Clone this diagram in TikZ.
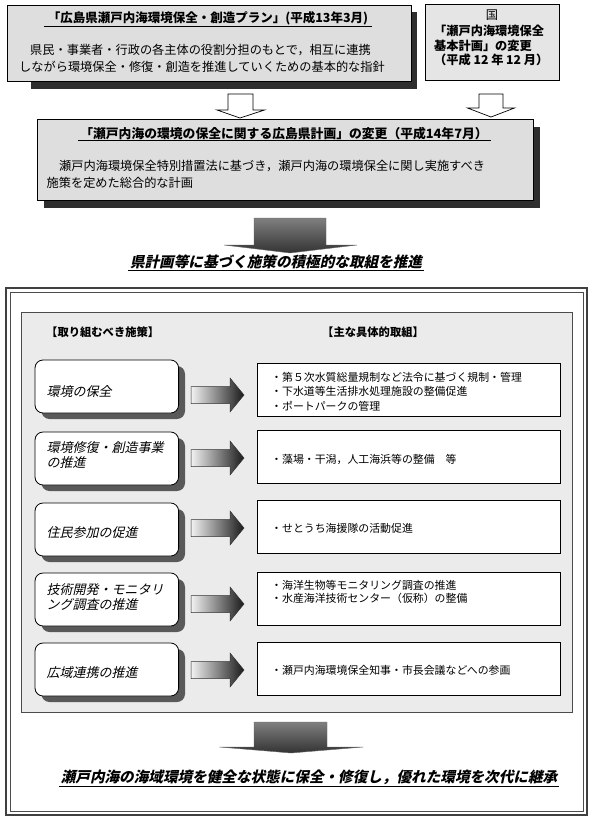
\documentclass[tikz,border=0pt]{standalone}
\usepackage{fontspec}
\setmainfont{Noto Sans CJK JP}
\newfontfamily\jpit[FakeSlant=0.22]{Noto Sans CJK JP}
\newcommand{\fsz}[1]{\fontsize{#1}{#1}\selectfont}
\begin{document}
\begin{tikzpicture}[x=1pt,y=-1pt,
  lbl/.style={inner sep=0pt,anchor=west},
  ttl/.style={inner sep=1.2pt},
  graybox/.style={draw=black,line width=0.8pt,fill=black!13},
  shadowbox/.style={fill=black!82},
  lbox/.style={draw=black,line width=0.8pt,fill=white,rounded corners=8pt},
  lshadow/.style={fill=black!65,rounded corners=8pt},
  rbox/.style={draw=black,line width=0.8pt,fill=white},
  hollow/.style={draw=black,line width=0.7pt,fill=white},
  hgrad/.style={draw=black!80,line width=0.5pt,left color=black!5,right color=black!90},
  vgrad/.style={draw=black!60,line width=0.4pt,top color=black!50,middle color=black!28,bottom color=black!80},
  uline/.style={line width=0.7pt}
]
\useasboundingbox (0,0) rectangle (598,828);
\fill[white] (0,0) rectangle (598,828);

% --- top left plan box
\fill[shadowbox] (30.5,12) rectangle (417,89);
\draw[graybox] (7.6,5) rectangle (411,81);
\node[ttl,font=\fsz{12.5}\bfseries] (t1) at (208,18) {「広島県瀬戸内海環境保全・創造プラン」(平成13年3月)};
\draw[uline] ([xshift=-2pt]t1.south west) -- ([xshift=2pt]t1.south east);
\node[lbl,font=\fsz{12.2}] (b1l1) at (30,50) {県民・事業者・行政の各主体の役割分担のもとで，相互に連携};
\node[lbl,font=\fsz{12.2}] (b1l2) at (19,67) {しながら環境保全・修復・創造を推進していくための基本的な指針};

% --- national box
\draw[graybox,fill=black!10] (425,4) rectangle (559,80);
\node[ttl,font=\fsz{12.2}] (kuni) at (492,15) {国};
\node[lbl,font=\fsz{12.2}\bfseries] (k1) at (434,31) {「瀬戸内海環境保全};
\node[lbl,font=\fsz{12.2}\bfseries] (k2) at (434,46) {基本計画」の変更};
\node[lbl,font=\fsz{12.2}\bfseries] (k3) at (434,60) {（平成 12 年 12 月）};

% --- hollow arrows
\draw[hollow] (228,94) -- (253,94) -- (253,110) -- (264.5,110) -- (240,118) -- (217,110) -- (228,110) -- cycle;
\draw[hollow] (479,94) -- (503,94) -- (503,108) -- (514.5,108) -- (491,117) -- (467.5,108) -- (479,108) -- cycle;

% --- prefectural plan box
\fill[shadowbox] (44,127) rectangle (540,208);
\draw[graybox] (37,119) rectangle (533.6,200);
\node[ttl,font=\fsz{12.8}\bfseries] (t3) at (284,134) {「瀬戸内海の環境の保全に関する広島県計画」の変更（平成14年7月）};
\draw[uline] (78,140.5) -- (490.5,140.5);
\node[lbl,font=\fsz{12.2}] (b3l1) at (59,166) {瀬戸内海環境保全特別措置法に基づき，瀬戸内海の環境保全に関し実施すべき};
\node[lbl,font=\fsz{12.2}] (b3l2) at (46.5,183) {施策を定めた総合的な計画};

% --- big arrow 1
\shade[vgrad] (254,218) -- (326,218) -- (326,245) -- (357,245) -- (290,253) -- (224,245) -- (254,245) -- cycle;
\node[ttl,font=\fsz{14.6}\jpit\bfseries] (mid) at (276,262) {県計画等に基づく施策の積極的な取組を推進};
\draw[uline] (128,270.5) -- (424,270.5);

% --- outer double frame
\draw[line width=1.3pt,black!75] (6,288) rectangle (587,815);
\draw[line width=0.5pt,black!70] (10,292) rectangle (583,811);

% --- inner panel
\draw[line width=0.9pt,draw=black!70,fill=black!8] (21,312) rectangle (572.5,712);
\node[lbl,font=\fsz{11.3}\bfseries] (h1) at (46,332) {【取り組むべき施策】};
\node[lbl,font=\fsz{11.3}\bfseries] (h2) at (322,332) {【主な具体的取組】};

% --- rows
\foreach \lt/\rt/\ay in {360/363/395, 432/430/458, 503/500/528, 573/572/604, 643/642/670}{
  \fill[lshadow] (41.5,\lt+6) rectangle (185,\lt+59);
  \draw[lbox] (35,\lt) rectangle (178.6,\lt+53);
  \draw[rbox] (257.6,\rt) rectangle (560,\rt+53);
  \shade[hgrad] (191,\ay-8.5) -- (230,\ay-8.5) -- (230,\ay-17) -- (244,\ay) -- (230,\ay+17) -- (230,\ay+8.5) -- (191,\ay+8.5) -- cycle;
}

% left texts
\node[lbl,font=\fsz{13}\jpit] (p1) at (46.5,392) {環境の保全};
\node[lbl,font=\fsz{13}\jpit] (p2a) at (46.5,448) {環境修復・創造事業};
\node[lbl,font=\fsz{13}\jpit] (p2b) at (46.5,463) {の推進};
\node[lbl,font=\fsz{13}\jpit] (p3) at (46.5,533) {住民参加の促進};
\node[lbl,font=\fsz{13}\jpit] (p4a) at (46.5,590) {技術開発・モニタリ};
\node[lbl,font=\fsz{13}\jpit] (p4b) at (46.5,605) {ング調査の推進};
\node[lbl,font=\fsz{13}\jpit] (p5) at (46.5,673) {広域連携の推進};

% right texts
\node[lbl,font=\fsz{10.9}] (r1a) at (271,377) {・第５次水質総量規制など法令に基づく規制・管理};
\node[lbl,font=\fsz{10.9}] (r1b) at (271,391.5) {・下水道等生活排水処理施設の整備促進};
\node[lbl,font=\fsz{10.9}] (r1c) at (271,406) {・ポートパークの管理};
\node[lbl,font=\fsz{10.9}] (r2) at (271,459) {・藻場・干潟，人工海浜等の整備　等};
\node[lbl,font=\fsz{10.9}] (r3) at (271,528) {・せとうち海援隊の活動促進};
\node[lbl,font=\fsz{10.9}] (r4a) at (271,585) {・海洋生物等モニタリング調査の推進};
\node[lbl,font=\fsz{10.9}] (r4b) at (271,598.5) {・水産海洋技術センター（仮称）の整備};
\node[lbl,font=\fsz{10.9}] (r5) at (271,670) {・瀬戸内海環境保全知事・市長会議などへの参画};

% --- bottom arrow and conclusion
\shade[vgrad] (254,722) -- (327,722) -- (327,747) -- (363,747) -- (291,753) -- (219.5,747) -- (254,747) -- cycle;
\node[ttl,font=\fsz{14.6}\jpit\bfseries] (fin) at (309,777) {瀬戸内海の海域環境を健全な状態に保全・修復し，優れた環境を次代に継承};
\draw[uline] (59,786.5) -- (559,786.5);
\end{tikzpicture}
\end{document}
